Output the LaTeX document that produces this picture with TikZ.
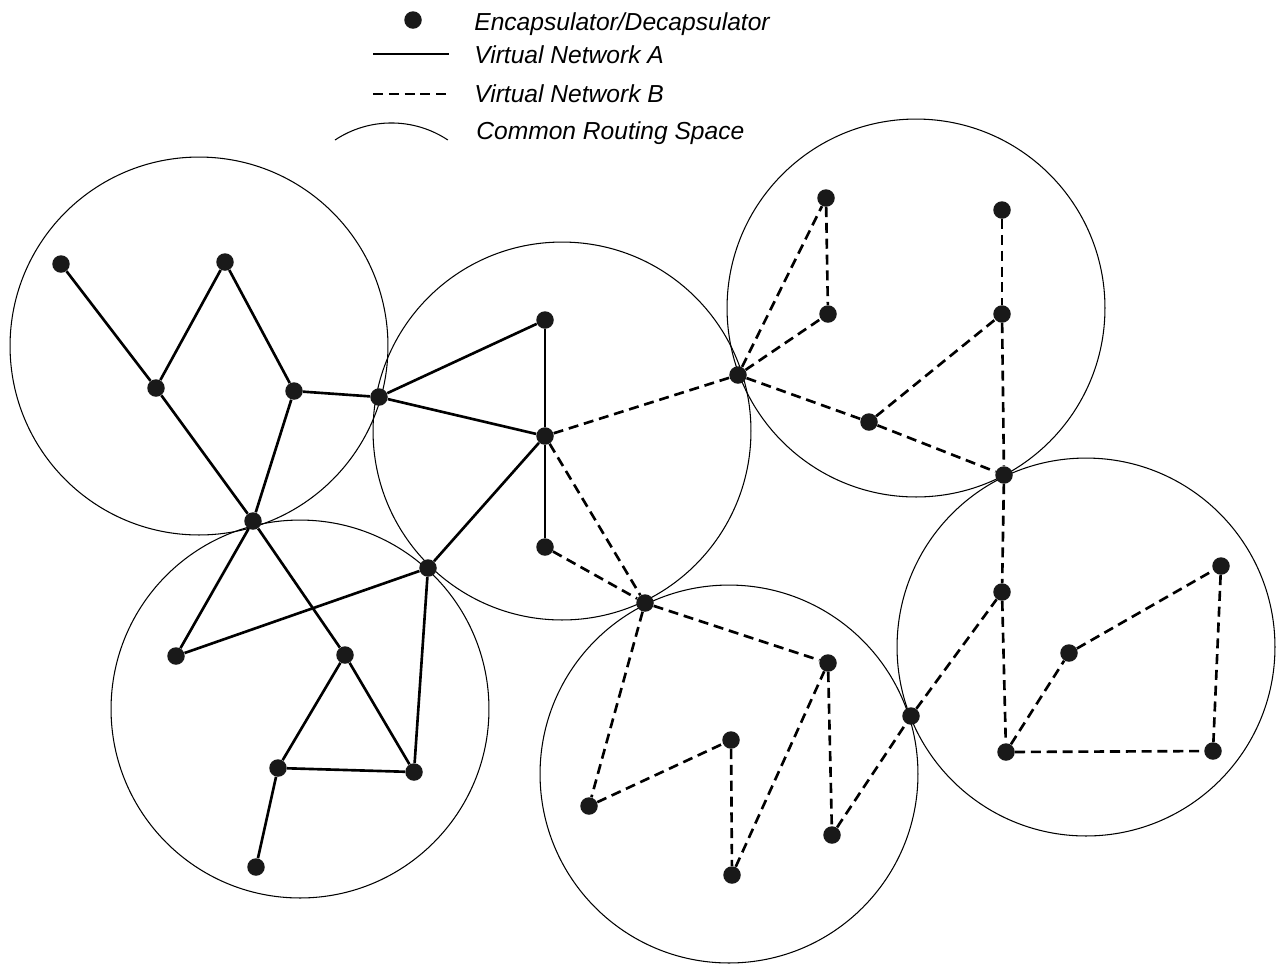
\documentclass[tikz,border=0pt]{standalone}
\usepackage{fontspec}
\setmainfont{Liberation Sans}
\usepackage{tikz}
\tikzstyle{vna} = [line width=1.5pt]
\tikzstyle{vnb} = [line width=1.5pt,dash pattern=on 5.7pt off 3.3pt]
\tikzstyle{space} = [line width=0.6pt]

\begin{document}
\begin{tikzpicture}
        [
            x=0.02cm,y=-0.02cm,
            dot/.style={circle,fill=black!90,inner sep=0pt,minimum size=0.35cm},
            legtext/.style={anchor=base west,inner sep=0pt,font=\fontsize{14}{17}\selectfont\itshape},
        ]
    \useasboundingbox (0,0) rectangle (1277,965);

    % common routing spaces
    \foreach \cx/\cy in {199/346,562/431,916/308,300/709,729/774,1086/647}
        \draw[space] (\cx,\cy) circle[radius=3.78cm];

    % encapsulators / decapsulators
    \foreach \n/\x/\y in {a1/61/264,a2/225/262,a3/156/388,a4/294/391,a5/379/397,
                          a6/545/320,a7/545/436,a8/545/547,a9/253/521,a10/428/568,
                          a11/176/656,a12/345/655,a13/278/768,a14/414/772,a15/256/867}
        \node[dot] (\n) at (\x,\y){};
    \foreach \n/\x/\y in {b1/738/375,b2/826/198,b3/828/314,b4/869/422,b5/1002/210,
                          b6/1002/314,b7/1004/475,b8/645/603,b9/828/663,b10/731/740,
                          b11/589/806,b12/732/875,b13/832/835,b14/911/716,b15/1002/592,
                          b16/1069/653,b17/1221/566,b18/1006/752,b19/1213/751}
        \node[dot] (\n) at (\x,\y){};

    % virtual network A
    \foreach \u/\v in {a1/a3,a3/a2,a2/a4,a3/a9,a4/a9,a4/a5,a5/a6,a5/a7,a6/a7,a7/a8,
                       a7/a10,a9/a11,a9/a12,a10/a11,a10/a14,a12/a13,a12/a14,a13/a14,a13/a15}
        \draw[vna] (\u) -- (\v);

    % virtual network B
    \foreach \u/\v in {a7/b1,a7/b8,a8/b8,b1/b2,b1/b3,b2/b3,b1/b4,b4/b6,b4/b7,b5/b6,
                       b6/b7,b7/b15,b8/b9,b8/b11,b11/b10,b10/b12,b12/b9,b9/b13,b13/b14,
                       b14/b15,b15/b18,b18/b16,b16/b17,b17/b19,b18/b19}
        \draw[vnb] (\u) -- (\v);

    % legend
    \node[dot] (legdot) at (413,20){};
    \node[legtext] (legenc) at (474,30){Encapsulator/Decapsulator};
    \coordinate (legaw) at (373,54);
    \coordinate (legae) at (449,54);
    \draw[vna] (legaw) -- (legae);
    \node[legtext] (lega) at (474,63){Virtual Network A};
    \coordinate (legbw) at (373,94);
    \coordinate (legbe) at (449,94);
    \draw[vnb] (legbw) -- (legbe);
    \node[legtext] (legb) at (474,102){Virtual Network B};
    \coordinate (legcw) at (335,140);
    \draw[space] (legcw) arc[start angle=123.6,end angle=56.4,radius=2.04cm];
    \node[legtext] (legc) at (476,139){Common Routing Space};
    \end{tikzpicture}
\end{document}
